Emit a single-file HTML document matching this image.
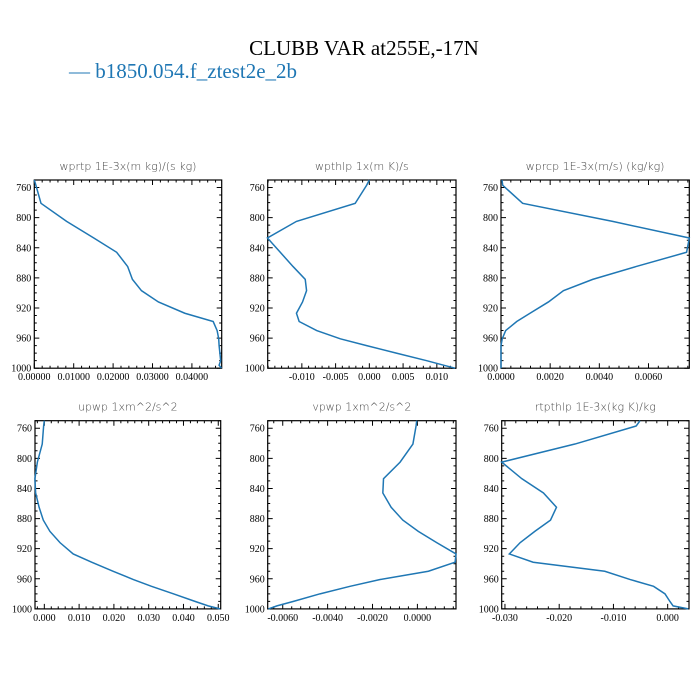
<!DOCTYPE html>
<html><head><meta charset="utf-8"><style>
body{margin:0;background:#fff;width:700px;height:700px;overflow:hidden}
svg{display:block}
.tl{font-family:"Liberation Serif",serif;font-size:10px;fill:#000}
.pt{font-family:"DejaVu Sans",sans-serif;font-size:11px;fill:#444;font-weight:300}
</style></head><body>
<svg id="chart" width="700" height="700">
<text x="364" y="55" text-anchor="middle" font-family="Liberation Serif,serif" font-size="21">CLUBB VAR at255E,-17N</text>
<text x="69" y="78" font-family="Liberation Serif,serif" font-size="21" fill="#1f77b4">— b1850.054.f_ztest2e_2b</text>
</svg>
<script>
const levels=[750,757,781,805,827,846,865,882,897,912,927,938,950,961,970,980,990,996,1000];
const wprtp=[0,0.0004,0.0017,0.0082,0.0151,0.0209,0.0237,0.0249,0.0272,0.0315,0.0382,0.0454,0.0464,0.0468,0.0469,0.0471,0.0473,0.0469,0.0475];
const wpthlp=[0,-0.0004,-0.0021,-0.0108,-0.0151,-0.0132,-0.0113,-0.0095,-0.0093,-0.0099,-0.0108,-0.0104,-0.0078,-0.0043,-0.0004,0.0040,0.0085,0.0110,0.0127];
const wprcp=[0.00004,0.00007,0.00088,0.00454,0.00766,0.00755,0.00549,0.00373,0.00254,0.00193,0.00118,0.00064,0.00019,0.00005,0,0,0,0,0];
const upwp=[0,-0.0002,-0.0006,-0.002,-0.0027,-0.0025,-0.0015,-0.0003,0.0016,0.0045,0.0083,0.0136,0.0198,0.0256,0.0308,0.0371,0.0433,0.0471,0.0505];
const vpwp=[-0.00003,-0.00006,-0.0002,-0.00077,-0.00151,-0.00154,-0.00117,-0.00065,0.00004,0.00086,0.00172,0.00168,0.00049,-0.00166,-0.003,-0.00434,-0.00552,-0.00626,-0.00664];
const rtpthlp=[-0.0051,-0.0058,-0.0171,-0.0306,-0.0269,-0.0229,-0.0205,-0.0216,-0.0245,-0.0272,-0.0292,-0.0248,-0.0116,-0.0069,-0.0026,-0.0005,0.0004,0.001,0.0038];
const yTicks=[760,800,840,880,920,960,1000];
const ticks1=[0,0.01,0.02,0.03,0.04];
const ticks2=[-0.01,-0.005,0,0.005,0.01];
const ticks3=[0,0.002,0.004,0.006];
const ticks4=[0,0.01,0.02,0.03,0.04,0.05];
const ticks5=[-0.006,-0.004,-0.002,0];
const ticks6=[-0.03,-0.02,-0.01,0];
const panels=[
 {name:'wprtp',title:'wprtp  1E-3x(m kg)/(s kg)',v:wprtp,x0:34.3,x1:221.7,y0:180,xmin:0,xmax:0.04756,ticks:ticks1,dec:5,minor:0.002},
 {name:'wpthlp',title:'wpthlp  1x(m K)/s',v:wpthlp,x0:267.7,x1:456,y0:180,xmin:-0.01506,xmax:0.01284,ticks:ticks2,dec:3,minor:0.001},
 {name:'wprcp',title:'wprcp  1E-3x(m/s) (kg/kg)',v:wprcp,x0:501,x1:689.3,y0:180,xmin:0,xmax:0.00766,ticks:ticks3,dec:4,minor:0.0004},
 {name:'upwp',title:'upwp  1xm^2/s^2',v:upwp,x0:35,x1:220.7,y0:420.7,xmin:-0.00268,xmax:0.0507,ticks:ticks4,dec:3,minor:0.002},
 {name:'vpwp',title:'vpwp  1xm^2/s^2',v:vpwp,x0:267.7,x1:456,y0:420.7,xmin:-0.00667,xmax:0.00172,ticks:ticks5,dec:4,minor:0.0004},
 {name:'rtpthlp',title:'rtpthlp  1E-3x(kg K)/kg',v:rtpthlp,x0:501.7,x1:689,y0:420.7,xmin:-0.0306,xmax:0.00393,ticks:ticks6,dec:3,minor:0.002}
];
const NS='http://www.w3.org/2000/svg';
const svg=document.getElementById('chart');
function mk(t,a,p){const e=document.createElementNS(NS,t);for(const k in a)e.setAttribute(k,a[k]);(p||svg).appendChild(e);return e;}
const H=188.2;
panels.forEach(P=>{
 const g=mk('g',{});
 
 
 const y1=P.y0+H;
 const xs=v=>P.x0+(v-P.xmin)/(P.xmax-P.xmin)*(P.x1-P.x0);
 const ys=p=>P.y0+(p-750)/250*H;
 const t=mk('text',{x:(P.x0+P.x1)/2,y:P.y0-10,'text-anchor':'middle',class:'pt'},g);
 t.textContent=P.title;
 
 
 let d='';
 // y ticks
 for(let p=750;p<=1000;p+=10){
  const y=ys(p),maj=(p-760)%40===0&&p>=760,L=maj?5:2.5;
  d+=`M${P.x0},${y}h${L}M${P.x1},${y}h${-L}`;
 }
 yTicks.forEach(p=>{
  const tx=mk('text',{x:P.x0-3,y:ys(p)+3.5,'text-anchor':'end',class:'tl'},g);
  tx.textContent=p;
  
  
 });
 // x minor ticks
 const start=Math.ceil(P.xmin/P.minor-1e-6);
 for(let i=start;i*P.minor<=P.xmax+1e-12;i++){
  const x=xs(i*P.minor);
  d+=`M${x},${y1}v-2.5M${x},${P.y0}v2.5`;
 }
 P.ticks.forEach(v=>{
  const x=xs(v);
  d+=`M${x},${y1}v-5M${x},${P.y0}v5`;
  const tx=mk('text',{x:x,y:y1+12,'text-anchor':'middle',class:'tl'},g);
  tx.textContent=v.toFixed(P.dec);
  
  
 });
 const tk=mk('path',{d:d,stroke:'#000','stroke-width':1,fill:'none'},g);
 
 
 const fr=mk('rect',{x:P.x0,y:P.y0,width:P.x1-P.x0,height:H,fill:'none',stroke:'#000','stroke-width':1.2},g);
 
 
 const pts=levels.map((p,i)=>xs(P.v[i]).toFixed(2)+','+ys(p).toFixed(2)).join(' ');
 const ln=mk('polyline',{points:pts,fill:'none',stroke:'#1f77b4','stroke-width':1.5},g);
 
 
});
</script>
</body></html>
